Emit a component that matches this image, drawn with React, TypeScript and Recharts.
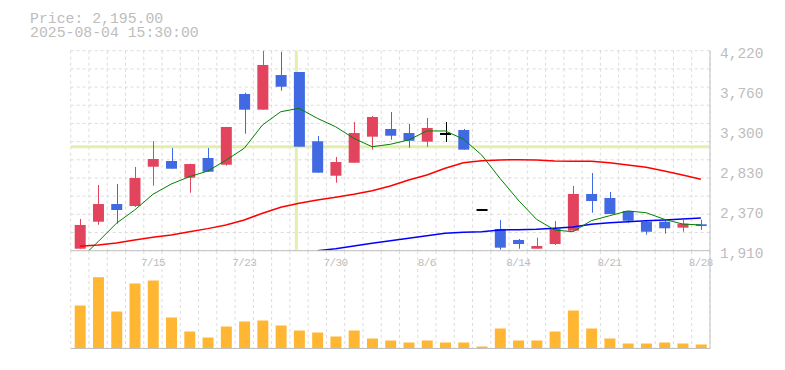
import { ComposedChart, Bar, Line, XAxis, YAxis, CartesianGrid, ReferenceLine } from "recharts";

const dates = [
  "7/9", "7/10", "7/11", "7/14", "7/15", "7/16", "7/17", "7/18", "7/22", "7/23",
  "7/24", "7/25", "7/28", "7/29", "7/30", "7/31", "8/1", "8/4", "8/5", "8/6",
  "8/7", "8/8", "8/12", "8/13", "8/14", "8/15", "8/18", "8/19", "8/20", "8/21",
  "8/22", "8/25", "8/26", "8/27", "8/28",
];
const open = [1933, 2245, 2449, 2426, 2880, 2946, 2753, 2981, 2903, 3720, 3539, 3939, 3974, 3174, 2776, 2926, 3227, 3316, 3269, 3169, 3258, 3304, 2380, 2161, 2034, 1933, 1987, 2141, 2565, 2519, 2369, 2245, 2245, 2176, 2215];
const high = [2276, 2669, 2680, 2877, 3177, 3096, 2915, 3096, 3339, 3735, 4220, 4208, 3974, 3235, 2992, 3396, 3466, 3512, 3373, 3443, 3396, 3316, 2380, 2265, 2045, 2060, 2253, 2657, 2807, 2588, 2369, 2265, 2265, 2265, 2268];
const low = [1933, 2210, 2222, 2415, 2661, 2857, 2580, 2822, 2892, 3261, 3539, 3758, 3111, 2811, 2695, 2926, 3077, 3192, 3100, 3111, 3165, 3077, 2380, 1922, 1933, 1933, 1976, 2141, 2349, 2334, 2233, 2095, 2106, 2129, 2153];
const close = [2207, 2449, 2380, 2750, 2969, 2857, 2911, 2822, 3339, 3539, 4055, 3804, 3111, 2811, 2934, 3269, 3454, 3238, 3180, 3327, 3258, 3077, 2380, 1945, 1987, 1964, 2161, 2565, 2484, 2334, 2256, 2129, 2169, 2222, 2195];
const ma5 = [1811, 2014, 2226, 2380, 2561, 2680, 2765, 2830, 2955, 3093, 3362, 3515, 3555, 3439, 3342, 3208, 3111, 3139, 3189, 3293, 3293, 3200, 3015, 2746, 2495, 2273, 2149, 2129, 2257, 2314, 2369, 2349, 2273, 2218, 2207];
const ma25 = [1961, 1976, 1999, 2034, 2065, 2091, 2129, 2165, 2207, 2265, 2342, 2411, 2457, 2495, 2527, 2561, 2603, 2657, 2727, 2784, 2862, 2926, 2949, 2958, 2961, 2958, 2946, 2942, 2942, 2926, 2900, 2873, 2831, 2784, 2735];
const ma75 = [null, null, null, null, null, null, null, null, null, null, null, null, null, 1910, 1933, 1964, 1995, 2026, 2053, 2083, 2111, 2122, 2129, 2149, 2153, 2157, 2169, 2184, 2215, 2233, 2245, 2257, 2265, 2276, 2288];
const volume = [430, 713, 370, 650, 680, 310, 170, 110, 220, 270, 280, 230, 180, 160, 120, 180, 100, 80, 60, 80, 60, 60, 20, 200, 80, 80, 170, 380, 200, 100, 50, 50, 60, 50, 40];

const priceTicks = [1910, 2372, 2834, 3296, 3758, 4220];
const dateTicks = ["7/15", "7/23", "7/30", "8/6", "8/14", "8/21", "8/28"];
const crossDate = "7/28";
const crossPrice = 3111;
const headerPrice = "Price: 2,195.00";
const headerTime = "2025-08-04 15:30:00";

const RED = "#e2445e";
const BLUE = "#4169e1";
const GRID = "#dcdcdc";
const AXIS = "#c0c0c0";
const TEXT = "#bdbdbd";
const CROSS = "#e3f0ad";
const FONT = "'Liberation Mono', monospace";

const rows = dates.map((date, i) => ({
  date,
  open: open[i],
  high: high[i],
  low: low[i],
  close: close[i],
  range: [low[i], high[i]],
  ma5: ma5[i],
  ma25: ma25[i],
  ma75: ma75[i],
  volume: volume[i],
}));

// candle drawn from a [low, high] range bar; body placed by interpolating inside it
function Candle(props: any) {
  const { x, y, width, height, payload } = props;
  const h = Math.abs(height || 0);
  const top = height < 0 ? y + height : y;
  const cx = Math.round(x + width / 2) + 0.5;
  if (payload.high === payload.low) {
    return <rect x={x} y={top - 1} width={width} height={2} fill="#000" />;
  }
  const k = h / (payload.high - payload.low);
  const yOf = (v: number) => top + (payload.high - v) * k;
  const up = payload.close > payload.open;
  const flat = payload.close === payload.open;
  const color = flat ? "#000" : up ? RED : BLUE;
  const bTop = yOf(Math.max(payload.open, payload.close));
  const bBot = yOf(Math.min(payload.open, payload.close));
  return (
    <g>
      <line x1={cx} x2={cx} y1={top} y2={top + h} stroke={color} strokeWidth={1} />
      {flat ? (
        <rect x={x} y={bTop - 1} width={width} height={2} fill={color} />
      ) : (
        <rect x={x} y={bTop} width={width} height={Math.max(1, bBot - bTop)} fill={color} />
      )}
    </g>
  );
}

const vGrid = ({ offset }: any) =>
  Array.from({ length: dates.length + 1 }, (_, k) => offset.left + (k * offset.width) / dates.length);
const hGrid = ({ offset }: any) =>
  Array.from({ length: 12 }, (_, k) => offset.top + (k * offset.height) / 11);

const priceMargin = { top: 50.7, right: 0, bottom: 99.3, left: 70.7 };

export default function App() {
  const layer = { position: "absolute" as const, left: 0, top: 0 };
  return (
    <div style={{ position: "absolute", left: 0, top: 0, width: 785, height: 370, background: "#fff" }}>
      {/* volume panel */}
      <div style={layer}>
        <ComposedChart width={785} height={370} data={rows} margin={{ top: 251, right: 0, bottom: 20.5, left: 70.7 }}>
          <CartesianGrid stroke={GRID} strokeDasharray="3 3" horizontal={false} verticalCoordinatesGenerator={vGrid} />
          <XAxis dataKey="date" height={1} tick={false} tickLine={false} axisLine={{ stroke: AXIS }} />
          <YAxis orientation="right" width={75} domain={[0, 975]} tick={false} tickLine={false} axisLine={{ stroke: AXIS }} />
          <Bar dataKey="volume" fill="#ffb733" barSize={11} isAnimationActive={false} />
        </ComposedChart>
      </div>
      {/* price panel background: grid + crosshair, kept under the candles */}
      <div style={layer}>
        <ComposedChart width={785} height={370} data={rows} margin={priceMargin}>
          <CartesianGrid
            stroke={GRID}
            strokeDasharray="3 3"
            verticalCoordinatesGenerator={vGrid}
            horizontalCoordinatesGenerator={hGrid}
          />
          <XAxis dataKey="date" height={20} ticks={dateTicks} interval={0} tick={false} tickLine={false} axisLine={false} />
          <YAxis orientation="right" width={75} domain={[1910, 4220]} allowDataOverflow ticks={priceTicks} tick={false} tickLine={false} axisLine={false} />
          <ReferenceLine x={crossDate} stroke={CROSS} strokeWidth={3} />
          <ReferenceLine y={crossPrice} stroke={CROSS} strokeWidth={3} />
        </ComposedChart>
      </div>
      {/* price panel: axes, moving averages, candles */}
      <div style={layer}>
        <ComposedChart width={785} height={370} data={rows} margin={priceMargin}>
          <XAxis
            dataKey="date"
            height={20}
            ticks={dateTicks}
            interval={0}
            tickLine={false}
            tickSize={0}
            tickMargin={7}
            axisLine={{ stroke: AXIS }}
            tick={{ fill: TEXT, fontSize: 11, fontFamily: FONT, letterSpacing: -0.6 }}
          />
          <YAxis
            orientation="right"
            width={75}
            domain={[1910, 4220]}
            allowDataOverflow
            ticks={priceTicks}
            interval={0}
            tickLine={false}
            tickSize={0}
            tickMargin={10}
            axisLine={{ stroke: AXIS }}
            tickFormatter={(v: number) => (Math.round(v / 10) * 10).toLocaleString("en-US")}
            tick={{ fill: TEXT, fontSize: 14.5, fontFamily: FONT, dy: 2 }}
          />
          <Line dataKey="ma75" stroke="#0000ff" strokeWidth={1.5} dot={false} activeDot={false} isAnimationActive={false} />
          <Line dataKey="ma25" stroke="#ff0000" strokeWidth={1.5} dot={false} activeDot={false} isAnimationActive={false} />
          <Line dataKey="ma5" stroke="#008000" strokeWidth={1} dot={false} activeDot={false} isAnimationActive={false} />
          <Bar dataKey="range" barSize={11} shape={Candle} isAnimationActive={false} />
        </ComposedChart>
      </div>
      <svg width={785} height={370} style={{ ...layer, pointerEvents: "none" }}>
        <text x={30} y={22.7} fill={TEXT} fontSize={14.8} fontFamily={FONT}>{headerPrice}</text>
        <text x={30} y={37.3} fill={TEXT} fontSize={14.8} fontFamily={FONT}>{headerTime}</text>
      </svg>
    </div>
  );
}
